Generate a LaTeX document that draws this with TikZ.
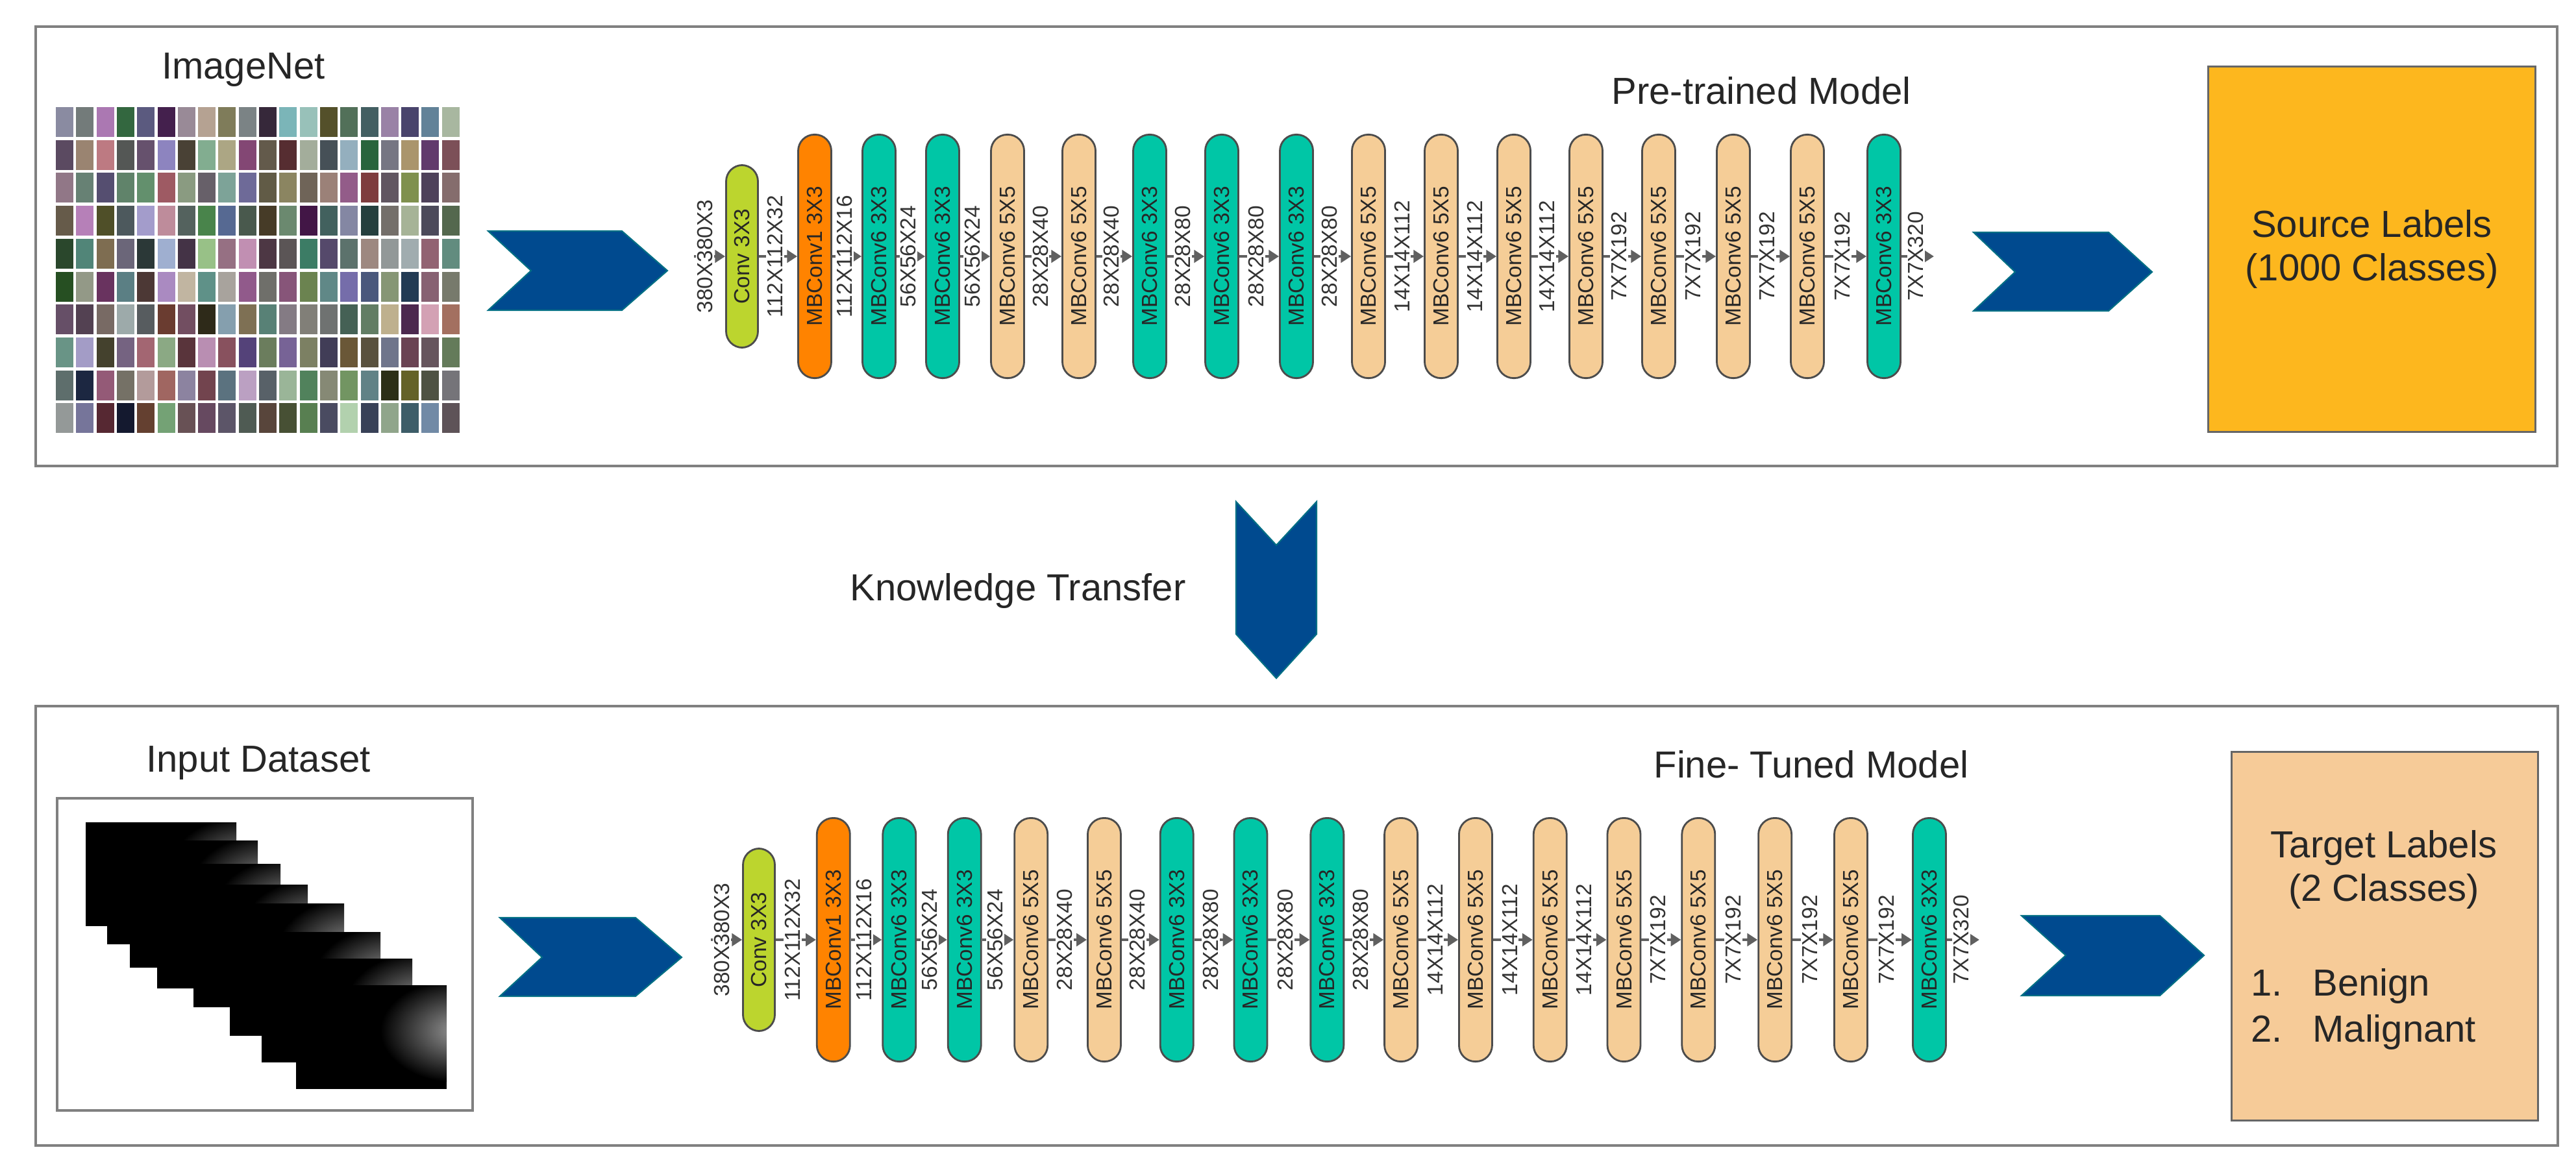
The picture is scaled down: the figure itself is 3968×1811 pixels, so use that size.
\documentclass[tikz,border=0pt]{standalone}
\usepackage{fontspec}
\setmainfont{Liberation Sans}
\usetikzlibrary{arrows.meta,calc}
\definecolor{cgreen}{HTML}{BCD52E}
\definecolor{corange}{HTML}{FF8300}
\definecolor{cteal}{HTML}{00C6A6}
\definecolor{cbeige}{HTML}{F5CD97}
\definecolor{csrc}{HTML}{FDB71E}
\definecolor{ctgt}{HTML}{F6CB98}
\definecolor{cchev}{HTML}{004A8F}
\definecolor{cframe}{HTML}{808080}
\definecolor{cconn}{HTML}{606060}
\tikzset{
 layer/.style={draw=black!70,line width=0.8pt,rounded corners=0.25cm,minimum width=3.75cm,minimum height=0.51cm,inner sep=0pt,font=\fontsize{9.5}{10}\selectfont,text=black!85},
 lc/.style={layer,fill=cgreen,minimum width=2.81cm,minimum height=0.49cm},
 lo/.style={layer,fill=corange},
 lt/.style={layer,fill=cteal},
 lb/.style={layer,fill=cbeige},
 conn/.style={draw=cconn,line width=1.4pt,-{Triangle[length=4.5pt,width=5.5pt]}},
 dim/.style={rotate=90,font=\fontsize{9.5}{10}\selectfont,text=black!80,fill=white,inner sep=0.6pt,pos=0.42},
 title/.style={font=\fontsize{16.5}{19}\selectfont,text=black!85},
 panel/.style={draw=cframe,line width=1.2pt},
 chev/.style={fill=cchev,draw=teal!70!cchev,line width=0.6pt},
}
\newcommand\drawnet[4]{%
 \foreach \i/\xx/\st/\txt in {1/1143/lc/Conv 3X3,2/1255/lo/MBConv1 3X3,3/1354/lt/MBConv6 3X3,4/1452/lt/MBConv6 3X3,5/1552/lb/MBConv6 5X5,6/1662/lb/MBConv6 5X5,7/1771/lt/MBConv6 3X3,8/1882/lt/MBConv6 3X3,9/1997/lt/MBConv6 3X3,10/2108/lb/MBConv6 5X5,11/2220/lb/MBConv6 5X5,12/2332/lb/MBConv6 5X5,13/2443/lb/MBConv6 5X5,14/2555/lb/MBConv6 5X5,15/2670/lb/MBConv6 5X5,16/2784/lb/MBConv6 5X5,17/2902/lt/MBConv6 3X3}{%
   \pgfmathsetmacro\xp{#3+(\xx-1143)*#4}
   \node[\st,rotate=90] (#1\i) at (\xp,#2) {\txt};
 }
 \coordinate (#1s) at ($(#11.north)+(-48,0)$);
 \coordinate (#1e) at ($(#117.south)+(50,0)$);
 \draw[conn] (#1s) -- node[dim,pos=0.35]{380X380X3} (#11.north);
 \foreach \i/\lab in {1/112X112X32,2/112X112X16,3/56X56X24,4/56X56X24,5/28X28X40,6/28X28X40,7/28X28X80,8/28X28X80,9/28X28X80,10/14X14X112,11/14X14X112,12/14X14X112,13/7X7X192,14/7X7X192,15/7X7X192,16/7X7X192}{%
   \pgfmathtruncatemacro\j{\i+1}
   \draw[conn] (#1\i.south) -- node[dim]{\lab} (#1\j.north);
 }
 \draw[conn] (#117.south) -- node[dim,pos=0.45]{7X7X320} (#1e);
}
\begin{document}
\begin{tikzpicture}[x=0.01cm,y=-0.01cm]
\useasboundingbox[fill=white] (0,0) rectangle (3968,1811);
% panels
\draw[panel] (55,41) rectangle (3939,718);
\draw[panel] (55,1088) rectangle (3940,1765);
% ImageNet mosaic
\pgfmathsetseed{7}
\foreach \c in {0,...,19}{
 \foreach \r in {0,...,9}{
  \pgfmathsetmacro\g{50+130*rnd}
  \pgfmathtruncatemacro\R{min(255,max(0,\g+70*(rnd-0.5)))}
  \pgfmathtruncatemacro\G{min(255,max(0,\g+70*(rnd-0.5)))}
  \pgfmathtruncatemacro\B{min(255,max(0,\g+70*(rnd-0.5)))}
  \fill[color={rgb,255:red,\R;green,\G;blue,\B}] ({86+\c*31.3},{165+\r*50.7}) rectangle ++(27,46);
 }}
\node[title] (imnet) at (375,108) {ImageNet};
% Input dataset
\node[title] (indata) at (398,1176) {Input Dataset};
\draw[draw=cframe,line width=1.2pt] (88,1230) rectangle (728,1711);
\foreach \x/\y [count=\k] in {132/1267,165/1295,200/1331,242/1363,298/1392,354/1436,403/1477,456/1518}{
 \begin{scope}
  \clip (\x,\y) rectangle ++(232,160);
  \fill[black] (\x,\y) rectangle ++(232,160);
  \shade[inner color=gray!80,outer color=black] ({\x+250},{\y+70}) ellipse (120 and 80);
 \end{scope}
}
% chevrons
\filldraw[chev] (752,356) -- (958,356) -- (1028,417) -- (958,478) -- (752,478) -- (818,417) -- cycle;
\filldraw[chev] (3040,358) -- (3248,358) -- (3315,419) -- (3248,479) -- (3040,479) -- (3104,419) -- cycle;
\filldraw[chev] (770,1414) -- (979,1414) -- (1050,1475) -- (979,1535) -- (770,1535) -- (835,1475) -- cycle;
\filldraw[chev] (3114,1411) -- (3327,1411) -- (3395,1472) -- (3327,1534) -- (3114,1534) -- (3182,1472) -- cycle;
\filldraw[chev] (1904,773) -- (1966,840) -- (2028,773) -- (2028,977) -- (1966,1045) -- (1904,977) -- cycle;
\node[title] (kt) at (1568,910) {Knowledge Transfer};
% networks
\node[title] (pre) at (2713,140) {Pre-trained Model};
\drawnet{t}{395}{1143}{1}
\node[title] (fine) at (2790,1178) {Fine- Tuned Model};
\drawnet{b}{1448}{1169}{1.025}
% label boxes
\node[draw=black!60,line width=0.8pt,fill=csrc,minimum width=5.03cm,minimum height=5.62cm,title,align=center] (src) at (3653.5,384) {Source Labels\\(1000 Classes)};
\node[draw=black!60,line width=0.8pt,fill=ctgt,minimum width=4.71cm,minimum height=5.67cm] (tgt) at (3673.5,1442.5) {};
\node[title,align=center] (tgtt) at (3672,1340) {Target Labels\\(2 Classes)};
\node[title,anchor=base west] (n1) at (3455,1534) {1.};
\node[title,anchor=base west] (b1) at (3550,1534) {Benign};
\node[title,anchor=base west] (n2) at (3455,1605) {2.};
\node[title,anchor=base west] (b2) at (3550,1605) {Malignant};
\end{tikzpicture}
\end{document}
